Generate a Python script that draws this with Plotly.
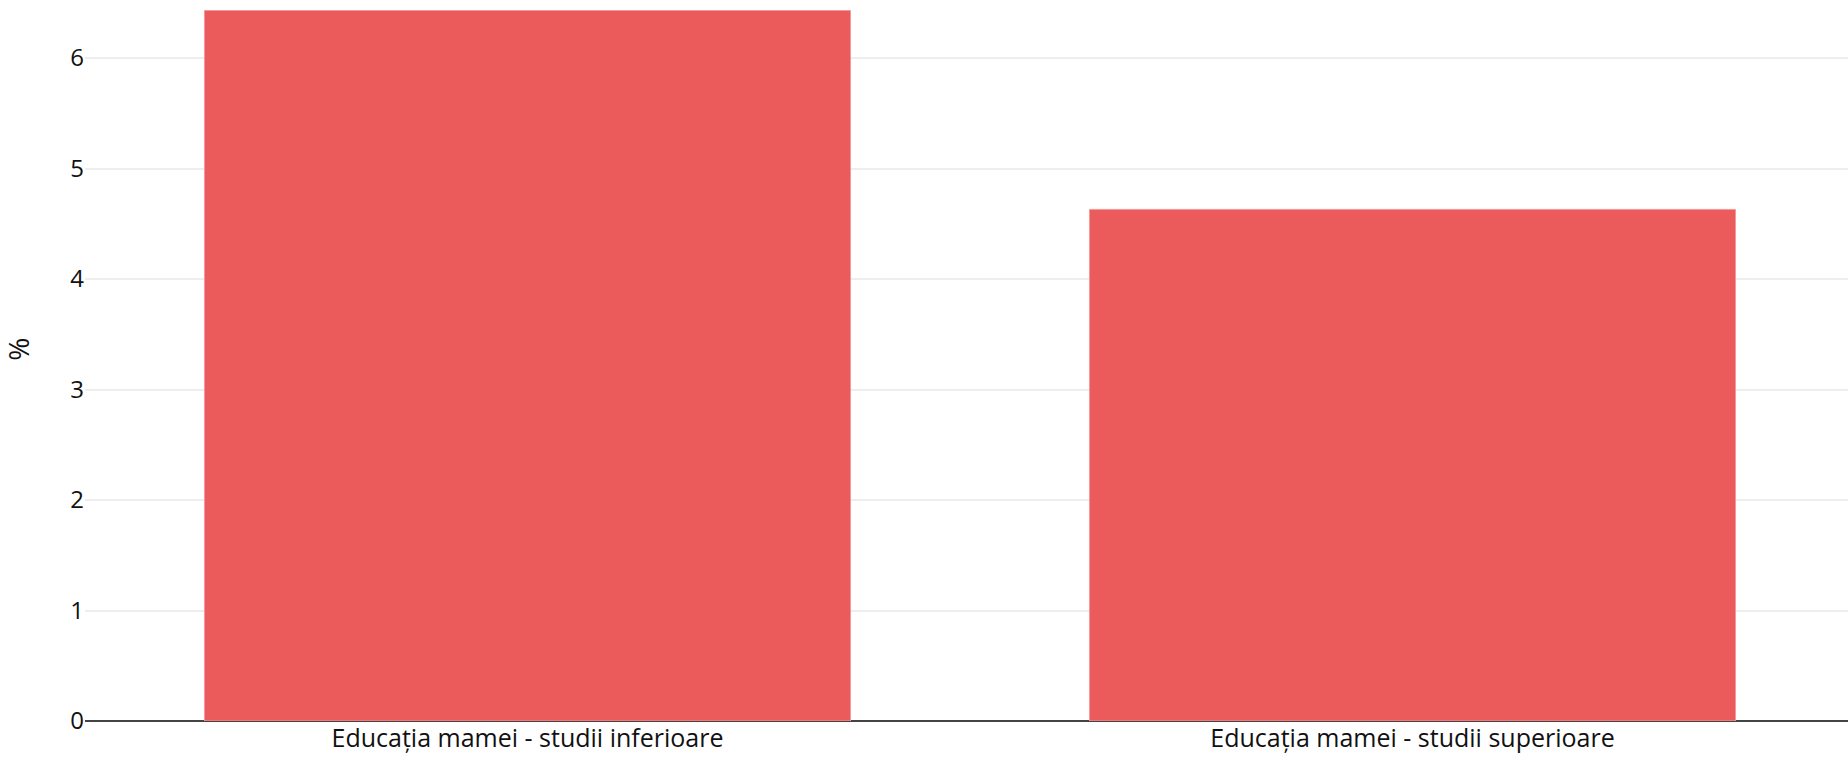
import plotly.graph_objects as go

categories = ["Educația mamei - studii inferioare", "Educația mamei - studii superioare"]
values = [6.43, 4.63]
y_ticks = [0, 1, 2, 3, 4, 5, 6]
y_title = "%"

fig = go.Figure(
    go.Bar(
        x=categories,
        y=values,
        marker=dict(color="#EB5B5C", line=dict(color="#F29A9A", width=1)),
        hoverinfo="none",
    )
)

fig.update_layout(
    width=1855,
    height=760,
    margin=dict(l=85, r=0, t=0, b=39),
    paper_bgcolor="white",
    plot_bgcolor="white",
    bargap=0.27,
    showlegend=False,
    font=dict(family="Open Sans, Nunito, sans-serif", size=24, color="#111"),
)
fig.update_xaxes(showgrid=False, showline=False, ticks="", tickfont=dict(size=25))
fig.update_yaxes(
    range=[0, 6.525],
    tickvals=y_ticks,
    showgrid=True,
    gridcolor="#eeeeee",
    gridwidth=1.5,
    zeroline=True,
    zerolinecolor="#444444",
    zerolinewidth=2,
    tickfont=dict(size=24),
)
fig.add_annotation(
    text=y_title,
    textangle=-90,
    xref="paper",
    yref="paper",
    x=0,
    y=0.515,
    xanchor="center",
    yanchor="middle",
    xshift=-67,
    showarrow=False,
    font=dict(size=28, color="#111"),
)

fig.write_html(
    "out.html",
    config={"displayModeBar": False},
    post_script="document.body.style.margin='0';document.body.style.overflow='hidden';",
)
